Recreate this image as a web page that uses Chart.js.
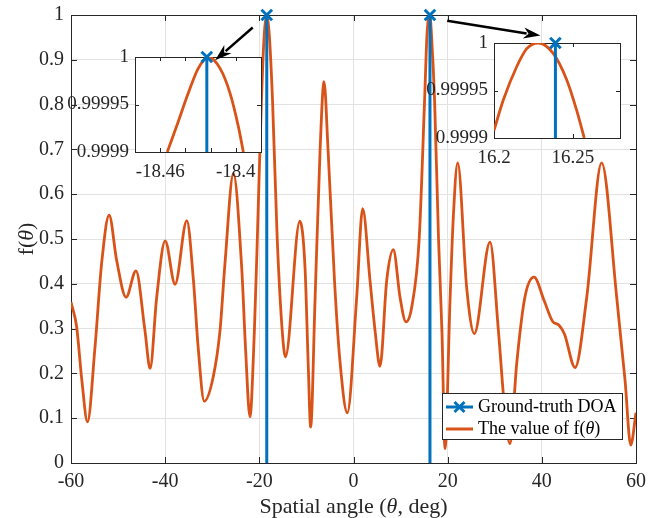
<!DOCTYPE html>
<html>
<head>
<meta charset="utf-8">
<script src="https://cdn.jsdelivr.net/npm/chart.js@4.4.1/dist/chart.umd.min.js"></script>
<style>
  body { margin: 0; background: #fff; }
  #wrap { position: relative; width: 672px; height: 518px; }
  canvas { position: absolute; }
</style>
</head>
<body>
<div id="wrap">
  <canvas id="main" width="672" height="518" style="left:0;top:0"></canvas>
  <canvas id="inset1" width="218" height="140" style="left:55px;top:47px"></canvas>
  <canvas id="inset2" width="218" height="140" style="left:414px;top:33px"></canvas>
  <canvas id="overlay" width="672" height="518" style="left:0;top:0;pointer-events:none"></canvas>
</div>
<script>
const ORANGE = '#D95319', BLUE = '#0072BD', INK = '#262626', GRID = '#e2e2e2';
const FONT = '"Liberation Serif", "Times New Roman", serif';

// f(theta) over the full scan
const curveX = [-60, -58.8, -57.7, -56.5, -54.9, -53.5, -51.9, -50.3, -48.3, -46.2,
  -44.3, -43.2, -41.8, -40.0, -37.9, -35.4, -34.0, -33.0, -31.7, -29.8,
  -28.35, -27.3, -25.5, -23.75, -22.9, -22.0, -21.07, -20.43, -19.55, -18.95,
  -18.42, -17.9, -17.2, -16.2, -15.1, -14.45, -11.4, -10.3, -9.6, -9.1,
  -8.17, -7.1, -6.26, -5.4, -4.0, -2.9, -1.31, 0.68, 1.95, 3.5,
  4.57, 5.63, 7.06, 8.46, 9.88, 11.15, 12.37, 13.95, 15.1, 15.62,
  16.23, 16.55, 17.22, 18.06, 18.8, 19.44, 20.5, 21.2, 22.13, 24.05,
  25.66, 29.0, 30.77, 32.2, 33.24, 34.66, 36.4, 38.34, 40.5, 42.3,
  43.6, 44.8, 47.06, 49.54, 52.7, 55.9, 57.67, 58.88, 60];
const curveY = [0.359, 0.304, 0.185, 0.092, 0.259, 0.445, 0.553, 0.452, 0.370, 0.429,
  0.296, 0.211, 0.370, 0.496, 0.399, 0.541, 0.408, 0.259, 0.138, 0.192,
  0.296, 0.445, 0.646, 0.437, 0.250, 0.103, 0.290, 0.500, 0.810, 0.958,
  1.000, 0.958, 0.810, 0.500, 0.290, 0.237, 0.540, 0.437, 0.214, 0.080,
  0.363, 0.698, 0.851, 0.698, 0.400, 0.230, 0.112, 0.370, 0.568, 0.408,
  0.296, 0.216, 0.408, 0.476, 0.370, 0.315, 0.348, 0.500, 0.810, 0.958,
  1.000, 0.958, 0.810, 0.500, 0.289, 0.032, 0.363, 0.549, 0.670, 0.390,
  0.289, 0.493, 0.296, 0.110, 0.043, 0.222, 0.370, 0.415, 0.362, 0.316,
  0.308, 0.288, 0.213, 0.370, 0.670, 0.370, 0.185, 0.040, 0.112];

const doaAngles = [-18.423, 16.239];
const xTicks = [-60, -40, -20, 0, 20, 40, 60];
const yTicks = [0, 0.1, 0.2, 0.3, 0.4, 0.5, 0.6, 0.7, 0.8, 0.9, 1];
const yTickLabels = ['0', '0.1', '0.2', '0.3', '0.4', '0.5', '0.6', '0.7', '0.8', '0.9', '1'];

// zoomed views around each peak
const inset1X = [-18.4544, -18.447, -18.4377, -18.4298, -18.4218, -18.4125, -18.4046, -18.398, -18.394];
const inset1Y = [0.9999, 0.999927, 0.999962, 0.999988, 1.0, 0.999988, 0.999962, 0.999927, 0.9999];
const inset1Range = [-18.48, -18.38];
const inset1XTicks = [-18.46, -18.44, -18.42, -18.4];
const inset1XLabels = ['-18.46', '', '', '-18.4'];

const inset2X = [16.2, 16.2059, 16.2144, 16.2208, 16.2281, 16.2376, 16.2462, 16.2525, 16.2573];
const inset2Y = [0.999908, 0.99994, 0.999975, 0.999994, 1.0, 0.999989, 0.999961, 0.999929, 0.9999];
const inset2Range = [16.2, 16.28];
const inset2XTicks = [16.2, 16.25];
const inset2XLabels = ['16.2', '16.25'];

const insetYTicks = [0.9999, 0.99995, 1];
const insetYLabels = ['0.9999', '0.99995', '1'];

// arrows from the main peaks to the insets (tail, tip) in main axis units
const arrowFrom = [[-21.4, 0.972], [19.9, 0.987]];
const arrowTo = [[-29.4, 0.899], [39.7, 0.954]];

function stemPoints(angles, lo, hi) {
  const pts = [];
  angles.forEach(a => { pts.push({x: a, y: lo}, {x: a, y: hi}, {x: a, y: null}); });
  return pts;
}

// keep the plot box exactly where the layout puts it
function fixX(h) { return s => { s.height = h; s.paddingLeft = 0; s.paddingRight = 0; }; }
function fixY(w) { return s => { s.width = w; s.paddingTop = 0; s.paddingBottom = 0; }; }

function drawFrame(chart, len) {
  const {ctx, chartArea: a, scales} = chart;
  ctx.save();
  ctx.strokeStyle = INK;
  ctx.lineWidth = 1;
  ctx.strokeRect(Math.round(a.left) + 0.5, Math.round(a.top) + 0.5,
    Math.round(a.right - a.left), Math.round(a.bottom - a.top));
  ctx.beginPath();
  scales.x.ticks.forEach(t => {
    const px = Math.round(scales.x.getPixelForValue(t.value)) + 0.5;
    ctx.moveTo(px, a.bottom); ctx.lineTo(px, a.bottom - len);
    ctx.moveTo(px, a.top); ctx.lineTo(px, a.top + len);
  });
  scales.y.ticks.forEach(t => {
    const py = Math.round(scales.y.getPixelForValue(t.value)) + 0.5;
    ctx.moveTo(a.left, py); ctx.lineTo(a.left + len, py);
    ctx.moveTo(a.right, py); ctx.lineTo(a.right - len, py);
  });
  ctx.stroke();
  ctx.restore();
}

// text with an italic theta inside
function drawMixed(ctx, parts, x, y, size) {
  let w = 0;
  parts.forEach(p => { ctx.font = (p.it ? 'italic ' : '') + size + 'px ' + FONT; w += ctx.measureText(p.t).width; });
  let cx = x - w / 2;
  parts.forEach(p => {
    ctx.font = (p.it ? 'italic ' : '') + size + 'px ' + FONT;
    ctx.fillText(p.t, cx, y);
    cx += ctx.measureText(p.t).width;
  });
}

function drawCross(ctx, x, y, r, color) {
  ctx.save();
  ctx.strokeStyle = color; ctx.lineWidth = 3;
  ctx.beginPath();
  ctx.moveTo(x - r, y - r); ctx.lineTo(x + r, y + r);
  ctx.moveTo(x + r, y - r); ctx.lineTo(x - r, y + r);
  ctx.stroke();
  ctx.restore();
}

const mainDecor = {
  id: 'mainDecor',
  beforeDatasetsDraw(chart) { drawFrame(chart, 6); },
  afterDraw(chart) {
    const ctx = chart.ctx, a = chart.chartArea;
    ctx.save();
    ctx.fillStyle = INK;
    ctx.textBaseline = 'alphabetic';
    drawMixed(ctx, [{t: 'Spatial angle ('}, {t: 'θ', it: true}, {t: ', deg)'}], (a.left + a.right) / 2, 513, 22);
    ctx.translate(33, (a.top + a.bottom) / 2);
    ctx.rotate(-Math.PI / 2);
    drawMixed(ctx, [{t: 'f('}, {t: 'θ', it: true}, {t: ')'}], 0, 0, 22);
    ctx.restore();

    // legend
    const lx = 442, ly = 393, lw = 180, lh = 46;
    ctx.save();
    ctx.fillStyle = '#fff';
    ctx.fillRect(lx, ly, lw, lh);
    ctx.strokeStyle = INK; ctx.lineWidth = 1;
    ctx.strokeRect(lx + 0.5, ly + 0.5, lw, lh);
    const rows = [ly + 14, ly + 36];
    chart.data.datasets.forEach((ds, i) => {
      ctx.strokeStyle = ds.borderColor; ctx.lineWidth = 3;
      ctx.beginPath(); ctx.moveTo(lx + 4, rows[i]); ctx.lineTo(lx + 31, rows[i]); ctx.stroke();
      if (i === 0) drawCross(ctx, lx + 17.5, rows[i], 5, ds.borderColor);
      ctx.fillStyle = '#000';
      ctx.font = '18px ' + FONT;
      ctx.textBaseline = 'middle';
      if (i === 0) {
        ctx.fillText(ds.label, lx + 36, rows[i]);
      } else {
        let cx = lx + 36;
        ctx.fillText('The value of f(', cx, rows[i]); cx += ctx.measureText('The value of f(').width;
        ctx.font = 'italic 18px ' + FONT;
        ctx.fillText('θ', cx, rows[i]); cx += ctx.measureText('θ').width;
        ctx.font = '18px ' + FONT;
        ctx.fillText(')', cx, rows[i]);
      }
    });
    ctx.restore();
  }
};

const mainChart = new Chart(document.getElementById('main'), {
  type: 'line',
  data: {
    datasets: [{
      label: 'Ground-truth DOA',
      data: stemPoints(doaAngles, 0, 1),
      borderColor: BLUE,
      borderWidth: 3,
      pointStyle: 'crossRot',
      pointRadius: ctx => (ctx.raw && ctx.raw.y === 1 ? 7.5 : 0),
      pointBorderColor: BLUE,
      pointBorderWidth: 3,
      spanGaps: false,
      clip: false
    }, {
      label: 'The value of f(θ)',
      data: curveX.map((x, i) => ({x: x, y: curveY[i]})),
      borderColor: ORANGE,
      borderWidth: 2.8,
      pointRadius: 0,
      cubicInterpolationMode: 'monotone'
    }]
  },
  options: {
    responsive: false,
    animation: false,
    events: [],
    layout: { padding: { left: 0, right: 36, top: 15, bottom: 0 } },
    plugins: { legend: { display: false }, tooltip: { enabled: false } },
    scales: {
      x: {
        type: 'linear', min: -60, max: 60,
        afterBuildTicks: s => { s.ticks = xTicks.map(v => ({value: v})); },
        afterFit: fixX(55),
        ticks: { color: INK, font: { family: FONT, size: 20 }, padding: 7, maxRotation: 0, callback: v => String(v) },
        grid: { color: GRID, drawTicks: false },
        border: { display: false }
      },
      y: {
        type: 'linear', min: 0, max: 1,
        afterBuildTicks: s => { s.ticks = yTicks.map(v => ({value: v})); },
        afterFit: fixY(71),
        ticks: { color: INK, font: { family: FONT, size: 20 }, padding: 7, callback: (v, i) => yTickLabels[i] },
        grid: { color: GRID, drawTicks: false },
        border: { display: false }
      }
    }
  },
  plugins: [mainDecor]
});

function makeInset(id, xs, ys, range, xTickVals, xTickLabels) {
  const decor = {
    id: 'insetDecor',
    beforeDraw(chart) {
      const a = chart.chartArea, ctx = chart.ctx;
      ctx.save(); ctx.fillStyle = '#fff';
      ctx.fillRect(a.left, a.top, a.right - a.left, a.bottom - a.top);
      ctx.restore();
    },
    beforeDatasetsDraw(chart) { drawFrame(chart, 4); }
  };
  return new Chart(document.getElementById(id), {
    type: 'line',
    data: {
      datasets: [{
        label: 'Ground-truth DOA',
        data: stemPoints(doaAngles.filter(a => a >= range[0] && a <= range[1]), insetYTicks[0], 1),
        borderColor: BLUE,
        borderWidth: 3,
        pointStyle: 'crossRot',
        pointRadius: ctx => (ctx.raw && ctx.raw.y === 1 ? 7.5 : 0),
        pointBorderColor: BLUE,
        pointBorderWidth: 3,
        clip: false
      }, {
        label: 'f',
        data: xs.map((x, i) => ({x: x, y: ys[i]})),
        borderColor: ORANGE,
        borderWidth: 2.8,
        pointRadius: 0,
        cubicInterpolationMode: 'monotone',
        clip: 0
      }]
    },
    options: {
      responsive: false,
      animation: false,
      events: [],
      layout: { padding: { left: 0, right: 12, top: 10, bottom: 0 } },
      plugins: { legend: { display: false }, tooltip: { enabled: false } },
      scales: {
        x: {
          type: 'linear', min: range[0], max: range[1],
          afterBuildTicks: s => { s.ticks = xTickVals.map(v => ({value: v})); },
          afterFit: fixX(35),
          ticks: { color: INK, font: { family: FONT, size: 19 }, padding: 9, maxRotation: 0, autoSkip: false,
            callback: (v, i) => xTickLabels[i] },
          grid: { display: false, drawTicks: false },
          border: { display: false }
        },
        y: {
          type: 'linear', min: insetYTicks[0], max: insetYTicks[insetYTicks.length - 1],
          afterBuildTicks: s => { s.ticks = insetYTicks.map(v => ({value: v})); },
          afterFit: fixY(80),
          ticks: { color: INK, font: { family: FONT, size: 19 }, padding: 6, autoSkip: false,
            callback: (v, i) => insetYLabels[i] },
          grid: { display: false, drawTicks: false },
          border: { display: false }
        }
      }
    },
    plugins: [decor]
  });
}

makeInset('inset1', inset1X, inset1Y, inset1Range, inset1XTicks, inset1XLabels);
makeInset('inset2', inset2X, inset2Y, inset2Range, inset2XTicks, inset2XLabels);

// arrows on top of everything
(function drawArrows() {
  const ctx = document.getElementById('overlay').getContext('2d');
  const sx = mainChart.scales.x, sy = mainChart.scales.y;
  ctx.strokeStyle = '#000';
  ctx.fillStyle = '#000';
  arrowFrom.forEach((f, i) => {
    const x1 = sx.getPixelForValue(f[0]), y1 = sy.getPixelForValue(f[1]);
    const x2 = sx.getPixelForValue(arrowTo[i][0]), y2 = sy.getPixelForValue(arrowTo[i][1]);
    const ang = Math.atan2(y2 - y1, x2 - x1), head = 17, half = 5.5;
    const bx = x2 - head * Math.cos(ang), by = y2 - head * Math.sin(ang);
    ctx.lineWidth = 2.5;
    ctx.beginPath(); ctx.moveTo(x1, y1); ctx.lineTo(bx + 3 * Math.cos(ang), by + 3 * Math.sin(ang)); ctx.stroke();
    ctx.beginPath();
    ctx.moveTo(x2, y2);
    ctx.lineTo(bx - half * Math.sin(ang), by + half * Math.cos(ang));
    ctx.lineTo(bx + 5 * Math.cos(ang), by + 5 * Math.sin(ang));
    ctx.lineTo(bx + half * Math.sin(ang), by - half * Math.cos(ang));
    ctx.closePath();
    ctx.fill();
  });
})();
</script>
</body>
</html>
